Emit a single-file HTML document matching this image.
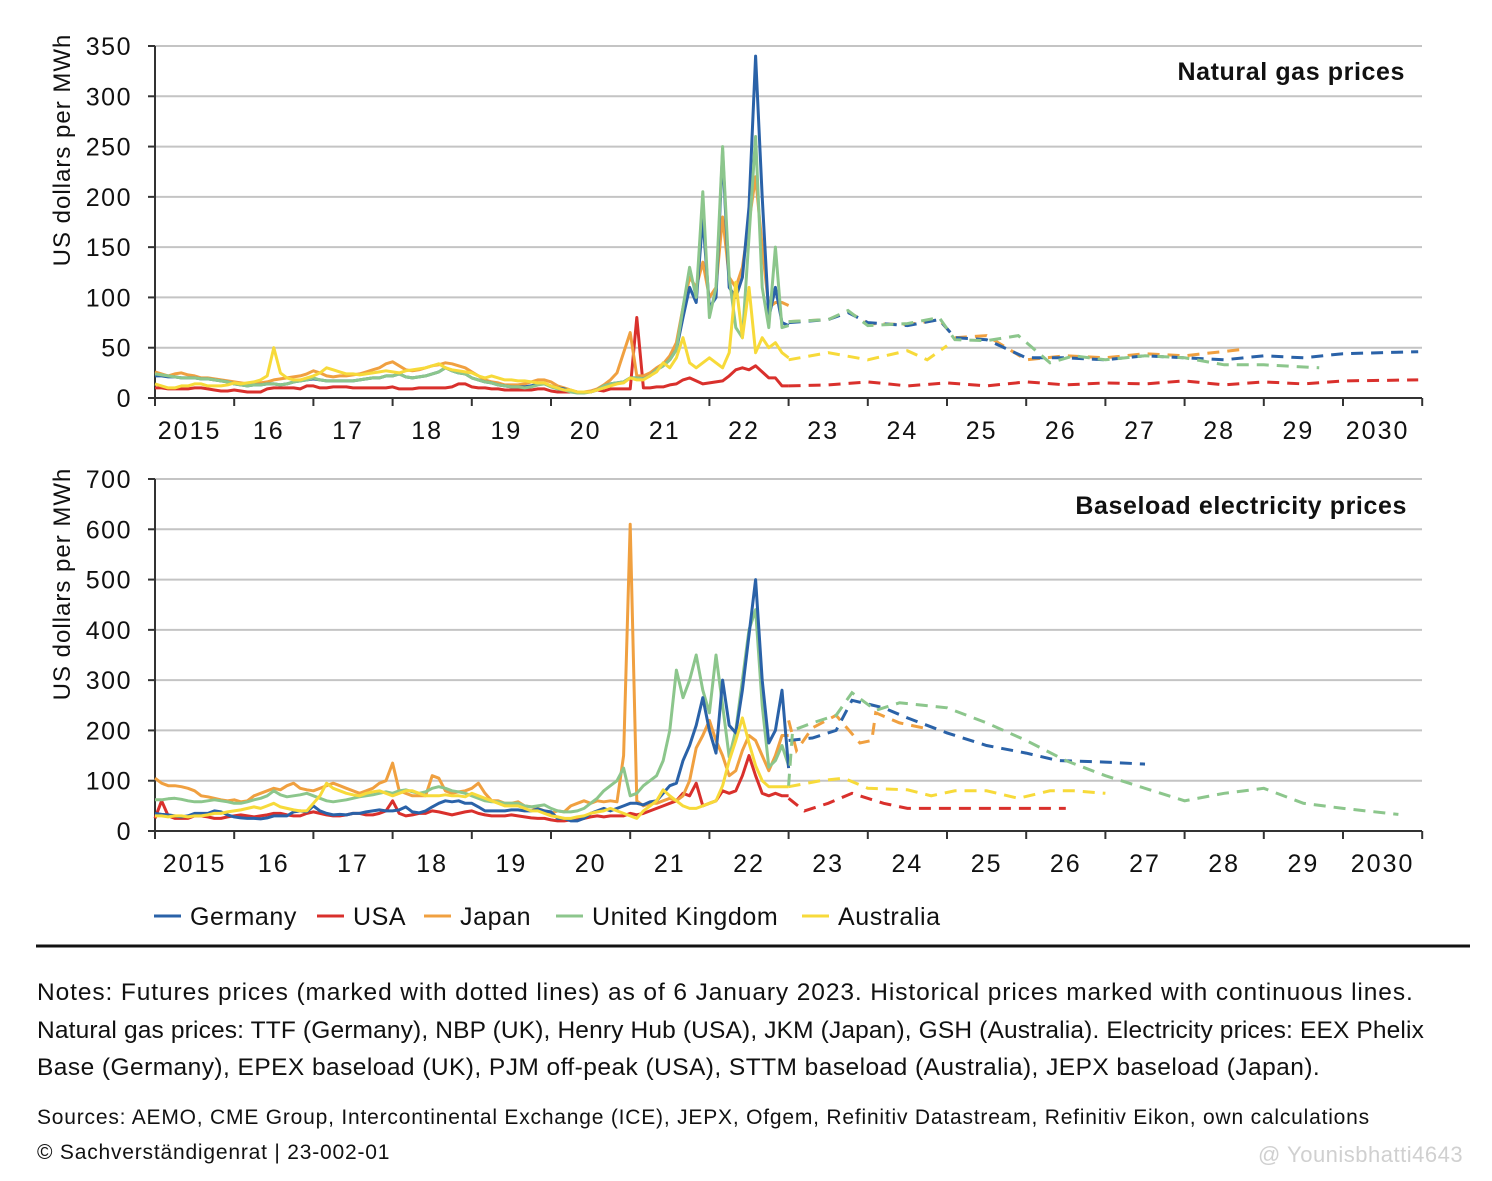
<!DOCTYPE html>
<html><head><meta charset="utf-8"><style>
body{margin:0;background:#fff;font-family:"Liberation Sans",sans-serif;}
#wrap{position:relative;width:1492px;height:1181px;overflow:hidden;}
.t{position:absolute;color:#111;white-space:nowrap;}
</style></head><body><div id="wrap">
<svg id="svg" width="1492" height="1181" style="position:absolute;left:0;top:0"></svg>
<div class="t" style="left:37px;top:974px;font-size:24.5px;letter-spacing:0.15px;line-height:37.5px;"><span style="letter-spacing:0.9px">Notes: Futures prices (marked with dotted lines) as of 6 January 2023. Historical prices marked with continuous lines.</span><br>Natural gas prices: TTF (Germany), NBP (UK), Henry Hub (USA), JKM (Japan), GSH (Australia). Electricity prices: EEX Phelix<br><span style="letter-spacing:0.45px">Base (Germany), EPEX baseload (UK), PJM off-peak (USA), STTM baseload (Australia), JEPX baseload (Japan).</span></div>
<div class="t" style="left:37px;top:1100px;font-size:21px;letter-spacing:0.8px;line-height:35px;">Sources: AEMO, CME Group, Intercontinental Exchange (ICE), JEPX, Ofgem, Refinitiv Datastream, Refinitiv Eikon, own calculations<br>© Sachverständigenrat | 23-002-01</div>
<div class="t" style="left:1258px;top:1142px;font-size:22px;letter-spacing:0.5px;color:#d0d0d0;">@ Younisbhatti4643</div>
</div>
<script>
const years=["2015","16","17","18","19","20","21","22","23","24","25","26","27","28","29","2030"];
const gasTicks=[0,50,100,150,200,250,300,350];
const elecTicks=[0,100,200,300,400,500,600,700];
const seriesNames=["Germany","USA","Japan","United Kingdom","Australia"];
const gasGermany=[22,22,21,21,20,20,20,19,19,18,17,16,14,13,12,13,13,14,14,13,14,16,17,18,19,18,17,17,17,17,17,18,19,20,20,22,22,24,21,20,21,22,24,26,30,27,25,24,20,18,16,15,13,12,11,11,11,12,14,14,12,10,9,7,6,6,6,8,12,14,15,16,20,20,19,22,28,32,38,48,80,110,95,180,90,100,245,110,100,120,190,340,200,80,110,75,72];
const gasUK=[24,23,22,21,20,20,20,19,19,18,17,16,14,13,12,13,13,14,14,13,14,16,17,18,20,18,17,17,17,17,17,18,19,20,20,22,22,24,21,20,21,22,24,26,30,27,25,24,20,18,16,15,13,12,11,11,10,11,13,14,11,9,8,6,5,5,6,8,12,14,15,16,20,20,19,22,28,32,38,48,90,130,100,205,80,110,250,120,70,60,160,260,110,70,150,70,72];
const gasJapan=[26,24,22,24,25,23,22,20,20,19,18,17,16,15,14,15,15,16,18,19,20,21,22,24,27,25,22,21,22,22,23,24,26,28,30,34,36,32,28,27,28,30,32,33,35,34,32,30,26,22,18,16,15,13,13,13,14,16,18,18,16,12,10,8,6,6,7,9,13,18,25,45,65,22,22,25,30,34,42,55,90,120,110,135,100,110,180,120,110,130,175,220,150,90,95,95,92];
const gasUSA=[10,10,9,9,9,9,10,10,9,8,7,7,8,7,6,6,6,9,10,10,10,10,9,12,12,10,10,11,11,11,10,10,10,10,10,10,11,9,9,9,10,10,10,10,10,11,14,14,11,10,10,9,9,8,8,8,8,8,9,9,7,6,6,6,6,6,6,8,7,9,9,9,9,80,10,10,11,11,13,14,18,20,17,14,15,16,17,22,28,30,28,32,26,20,20,12,12];
const gasAustralia=[14,12,10,10,12,12,14,14,12,12,12,13,15,14,15,16,18,22,50,25,20,18,18,20,22,25,30,28,26,24,24,23,24,25,26,27,26,25,27,28,29,30,32,34,30,28,27,26,25,22,20,22,20,18,18,17,17,16,15,15,12,10,8,8,6,6,6,8,10,12,14,15,20,18,18,22,26,35,30,40,60,35,30,35,40,35,30,45,115,60,110,45,60,50,55,45,40];
const elecGermany=[35,33,32,30,28,30,35,35,35,40,38,32,28,26,25,25,24,26,30,30,30,38,40,38,50,40,35,32,33,32,35,35,38,40,42,40,40,42,48,38,36,40,48,55,60,58,60,55,55,48,40,40,40,40,42,42,40,40,44,40,38,25,25,20,20,25,35,40,45,40,45,50,55,55,52,58,60,75,90,95,140,170,210,265,200,155,300,210,195,280,390,500,300,175,200,280,125];
const elecUK=[62,62,64,65,63,60,58,58,60,62,60,58,55,55,58,62,65,70,80,72,68,70,72,75,70,65,60,58,60,62,65,68,70,72,75,78,75,80,82,78,75,78,85,88,85,80,78,75,70,65,60,58,58,55,55,55,50,48,50,52,45,40,38,38,40,45,55,65,80,90,100,125,70,75,90,100,110,140,200,320,265,300,350,280,235,350,250,147,200,300,400,440,250,127,140,170,130];
const elecJapan=[105,95,90,90,88,85,80,70,68,65,62,60,62,58,60,70,75,80,85,82,90,95,85,82,80,85,90,95,90,85,80,75,80,85,95,100,135,80,75,70,70,70,110,105,80,75,78,80,85,95,75,60,60,55,55,58,50,48,45,40,35,40,38,50,55,60,55,60,58,60,58,150,610,60,50,55,55,60,65,60,70,100,165,190,220,180,150,110,120,160,190,180,150,120,150,190,190];
const elecUSA=[25,60,30,25,25,25,30,30,28,25,25,28,30,32,30,28,30,32,35,35,32,30,30,35,38,35,32,30,30,32,35,35,32,32,35,40,60,35,30,32,35,35,40,38,35,32,35,38,40,35,32,30,30,30,32,30,28,26,25,25,22,20,20,22,22,25,28,30,28,30,30,30,35,32,35,40,45,50,55,60,75,70,95,50,55,60,80,75,80,110,150,110,75,70,75,70,70];
const elecAustralia=[30,30,28,30,30,28,30,30,32,35,35,38,40,42,45,48,45,50,55,48,45,42,40,40,55,70,95,85,80,75,72,70,75,78,80,75,70,75,80,80,75,70,70,70,72,70,70,68,75,70,65,60,55,50,50,50,45,40,40,35,30,28,25,25,28,30,35,38,40,45,40,35,30,25,40,50,60,82,70,60,50,45,45,50,55,60,90,140,180,225,175,130,100,88,88,88,88];
const futGasT={Germany:[2023.0,2023.5,2023.75,2024.0,2024.5,2024.9,2025.1,2025.5,2026.0,2026.5,2027,2027.5,2028,2028.5,2029,2029.5,2030,2030.95],USA:[2023.0,2023.5,2024,2024.5,2025,2025.5,2026,2026.5,2027,2027.5,2028,2028.5,2029,2029.5,2030,2030.95],Japan:[2023.0,2023.5,2023.75,2024.0,2024.5,2024.9,2025.1,2025.5,2026.0,2026.5,2027,2027.5,2028,2028.7],UK:[2023.0,2023.5,2023.75,2024.0,2024.5,2024.9,2025.1,2025.5,2025.9,2026.3,2026.6,2027,2027.5,2028,2028.5,2029,2029.7],Australia:[2023.0,2023.5,2024.0,2024.5,2024.75,2025.0]};
const futGasV={Germany:[75,78,85,75,72,78,60,58,40,40,38,42,40,38,42,40,44,46],USA:[12,13,16,12,15,12,16,13,15,14,17,13,16,14,17,18],Japan:[76,78,86,74,73,78,60,62,38,42,40,44,42,48],UK:[76,78,87,72,74,80,58,57,62,35,42,38,42,40,33,33,30],Australia:[38,45,38,47,38,52]};
const futElT={Germany:[2023.0,2023.3,2023.6,2023.8,2024.2,2024.5,2025.0,2025.5,2026.0,2026.4,2027.0,2027.5],UK:[2023.0,2023.05,2023.3,2023.6,2023.8,2024.1,2024.4,2025.0,2025.5,2026.0,2026.5,2027.0,2027.5,2028.0,2028.5,2029.0,2029.5,2030.0,2030.7],Japan:[2023.0,2023.1,2023.3,2023.6,2023.9,2024.05,2024.1,2024.4,2024.7],USA:[2023.0,2023.2,2023.5,2023.8,2024.2,2024.5,2025.0,2025.5,2026.0,2026.5],Australia:[2023.0,2023.4,2023.7,2024.0,2024.5,2024.8,2025.1,2025.5,2025.9,2026.3,2026.6,2027.0]};
const futElV={Germany:[180,185,200,260,245,225,195,170,155,140,137,133],UK:[90,200,215,230,275,240,255,245,215,180,140,110,85,60,75,85,55,45,33],Japan:[220,160,205,230,175,180,235,215,205],USA:[65,40,55,75,55,45,45,45,45,45],Australia:[88,100,105,85,82,70,80,80,65,80,80,75]};
const colors={Germany:"#2a62a8",USA:"#d9302c",Japan:"#f0a040",UK:"#8cc68c",Australia:"#f7da3a"};

const X0=155,YW=79.2;
const x=t=>X0+(t-2015)*YW;
const yGas=v=>398-v*(352/350);
const yEl=v=>831-v*(352/700);
const svg=document.getElementById('svg');
const NS="http://www.w3.org/2000/svg";
function mk(tag,attrs,parent){const e=document.createElementNS(NS,tag);for(const k in attrs)e.setAttribute(k,attrs[k]);(parent||svg).appendChild(e);return e;}
function panel(ticks,ymap,yBase,title,titleY,titleX,labelDx,axTitleY,name){
  const g=mk('g',{});
  
  
  ticks.forEach(v=>{
    if(v>0){const l=mk('line',{x1:X0,x2:1422,y1:ymap(v),y2:ymap(v),stroke:'#c4c4c4','stroke-width':2},g);
    
    }
    mk('line',{x1:X0-7,x2:X0,y1:ymap(v),y2:ymap(v),stroke:'#333','stroke-width':2},g);
    const tx=mk('text',{x:132,y:ymap(v)+9,'text-anchor':'end','font-size':25,'letter-spacing':1.5,fill:'#111'},g);
    tx.textContent=v;
    
    
  });
  mk('line',{x1:X0,x2:X0,y1:ymap(ticks[ticks.length-1]),y2:yBase,stroke:'#333','stroke-width':2},g);
  mk('line',{x1:X0,x2:1422,y1:yBase,y2:yBase,stroke:'#333','stroke-width':2},g);
  for(let i=0;i<=16;i++){mk('line',{x1:x(2015+i),x2:x(2015+i),y1:yBase,y2:yBase+8,stroke:'#333','stroke-width':2},g);}
  years.forEach((yr,i)=>{const tx=mk('text',{x:x(2015.5+i)+labelDx,y:yBase+41,'text-anchor':'middle','font-size':25,'letter-spacing':2,fill:'#111'},g);tx.textContent=yr;
    
    });
  const at=mk('text',{x:0,y:0,transform:`translate(70,${axTitleY}) rotate(-90)`,'text-anchor':'middle','font-size':24,'letter-spacing':1,fill:'#111'},g);
  at.textContent='US dollars per MWh';
  
  
  const tt=mk('text',{x:titleX,y:titleY,'text-anchor':'end','font-size':25,'letter-spacing':0.6,'font-weight':'bold',fill:'#111'},g);
  tt.textContent=title;
  
  
}
panel(gasTicks,yGas,398,'Natural gas prices',80,1405,-5,150,'gas-panel');
panel(elecTicks,yEl,831,'Baseload electricity prices',514,1407,0,584,'electricity-panel');

function hist(vals,ymap,col,name){const p=vals.map((v,i)=>`${x(2015+i/12).toFixed(1)},${ymap(v).toFixed(1)}`).join(' ');
  const e=mk('polyline',{points:p,fill:'none',stroke:col,'stroke-width':3,'stroke-linejoin':'round'});
  
  }
function fut(ts,vs,ymap,col,name){const p=ts.map((t,i)=>`${x(t).toFixed(1)},${ymap(vs[i]).toFixed(1)}`).join(' ');
  const e=mk('polyline',{points:p,fill:'none',stroke:col,'stroke-width':3,'stroke-dasharray':'12,8'});
  
  }
hist(gasUSA,yGas,colors.USA,'gas-usa-line');
hist(gasJapan,yGas,colors.Japan,'gas-japan-line');
hist(gasGermany,yGas,colors.Germany,'gas-germany-line');
hist(gasUK,yGas,colors.UK,'gas-uk-line');
hist(gasAustralia,yGas,colors.Australia,'gas-australia-line');
["USA","Australia","Japan","Germany","UK"].forEach(k=>fut(futGasT[k],futGasV[k],yGas,colors[k],'gas-futures-'+k.toLowerCase()));
hist(elecUSA,yEl,colors.USA,'elec-usa-line');
hist(elecJapan,yEl,colors.Japan,'elec-japan-line');
hist(elecUK,yEl,colors.UK,'elec-uk-line');
hist(elecGermany,yEl,colors.Germany,'elec-germany-line');
hist(elecAustralia,yEl,colors.Australia,'elec-australia-line');
["USA","Australia","Japan","Germany","UK"].forEach(k=>fut(futElT[k],futElV[k],yEl,colors[k],'elec-futures-'+k.toLowerCase()));

const legX=[154,317,424,556,802];
const legKeys=["Germany","USA","Japan","UK","Australia"];
legKeys.forEach((k,i)=>{
  const g=mk('g',{});
  
  
  mk('line',{x1:legX[i],x2:legX[i]+27,y1:916,y2:916,stroke:colors[k],'stroke-width':3},g);
  const t=mk('text',{x:legX[i]+36,y:925,'font-size':25,'letter-spacing':0.6,fill:'#111'},g);t.textContent=seriesNames[i];
});
const rule=mk('line',{x1:36,x2:1470,y1:946,y2:946,stroke:'#111','stroke-width':3});


</script></body></html>
